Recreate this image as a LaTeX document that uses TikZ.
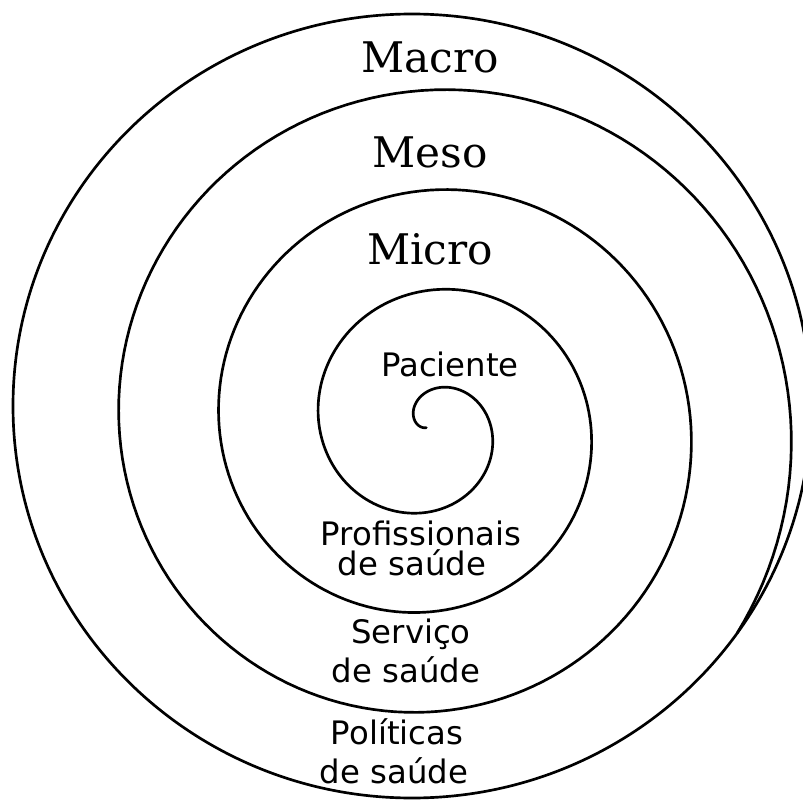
\documentclass[tikz,border=0pt]{standalone}
\usepackage{fontspec}
\usepackage{tikz}
\newfontfamily\scalefont{DejaVu Serif}
\newfontfamily\actorfont{DejaVu Sans}
\tikzset{
  scalename/.style={anchor=base, font=\scalefont\fontsize{30}{36}\selectfont},
  actorname/.style={anchor=base, font=\actorfont\fontsize{23}{27}\selectfont},
}

\begin{document}
\begin{tikzpicture}[x=0.025cm, y=-0.025cm, line width=1.9pt]
      \useasboundingbox (0,0) rectangle (803,801);
      \draw (412,406) ellipse [x radius=399, y radius=392];
      \draw[line cap=round] plot[domain=204:-1114, samples=600, variable=\t]
        ({430+0.278*(218.6-\t)*cos(\t)}, {426-0.278*(218.6-\t)*sin(\t)});
      \node[scalename] (macro) at (430,73) {Macro};
      \node[scalename] (meso) at (430,168) {Meso};
      \node[scalename] (micro) at (430,265) {Micro};
      \node[actorname] (paciente) at (450,376) {Paciente};
      \node[actorname] (prof) at (421,545) {Profissionais};
      \node[actorname] (profsaude) at (412,575) {de saúde};
      \node[actorname] (servico) at (411,643) {Serviço};
      \node[actorname] (servsaude) at (406,682) {de saúde};
      \node[actorname] (politicas) at (397,744) {Políticas};
      \node[actorname] (polsaude) at (394,783) {de saúde};
\end{tikzpicture}
\end{document}
